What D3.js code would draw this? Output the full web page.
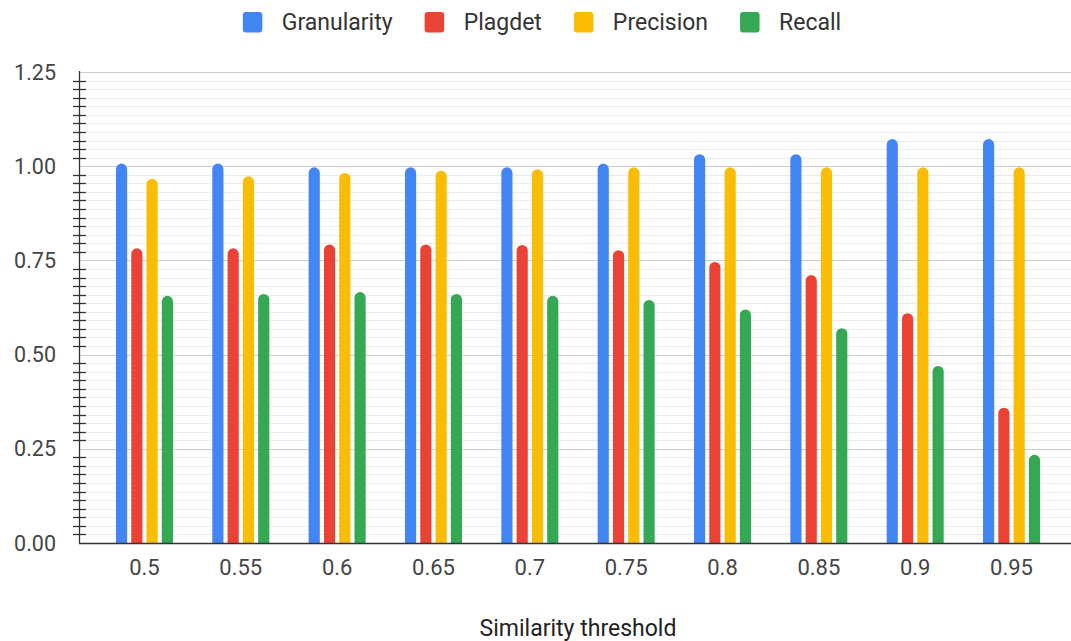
<!DOCTYPE html>
<html>
<head>
<meta charset="utf-8">
<script src="https://cdn.jsdelivr.net/npm/d3@7"></script>
<style>
  html, body { margin: 0; padding: 0; background: #fff; }
  svg { display: block; font-family: Roboto, "Liberation Sans", Arial, sans-serif; }
</style>
</head>
<body>
<svg id="chart" width="1071" height="641"></svg>
<script>
const categories = ["0.5", "0.55", "0.6", "0.65", "0.7", "0.75", "0.8", "0.85", "0.9", "0.95"];
const seriesNames = ["Granularity", "Plagdet", "Precision", "Recall"];
const granularity = [1.007, 1.007, 0.997, 0.997, 0.997, 1.007, 1.032, 1.032, 1.072, 1.072];
const plagdet     = [0.782, 0.782, 0.792, 0.792, 0.791, 0.777, 0.746, 0.711, 0.610, 0.359];
const precision   = [0.967, 0.973, 0.982, 0.988, 0.992, 0.997, 0.997, 0.997, 0.997, 0.997];
const recall      = [0.656, 0.661, 0.666, 0.661, 0.656, 0.645, 0.620, 0.570, 0.470, 0.234];
const yTickValues = [0, 0.25, 0.5, 0.75, 1.0, 1.25];
const yTickLabels = ["0.00", "0.25", "0.50", "0.75", "1.00", "1.25"];
const colors = ["#4285F4", "#EA4335", "#FBBC04", "#34A853"];
const xTitle = "Similarity threshold";

const seriesValues = [granularity, plagdet, precision, recall];

const svg = d3.select("#chart");
const axisX = 79, plotRight = 1071, plotTop = 72, plotBottom = 543;

const y = d3.scaleLinear().domain([0, 1.25]).range([plotBottom, plotTop]);
const x = d3.scaleBand().domain(categories).range([96.3, 1059.7]).paddingInner(0).paddingOuter(0);
const groupW = 57;
const x1 = d3.scaleBand().domain(seriesNames).range([0, groupW]).paddingInner(0.27).paddingOuter(0);

// minor gridlines (10 minor between each major)
const minor = [];
for (let i = 0; i < yTickValues.length - 1; i++) {
  const a = yTickValues[i], b = yTickValues[i + 1];
  for (let k = 1; k <= 10; k++) minor.push(a + (b - a) * k / 11);
}
const g = svg.append("g");
g.selectAll("line.minor").data(minor).join("line")
  .attr("x1", axisX).attr("x2", plotRight)
  .attr("y1", d => Math.round(y(d)) + 0.5).attr("y2", d => Math.round(y(d)) + 0.5)
  .attr("stroke", "#ebebeb").attr("stroke-width", 1);
g.selectAll("line.major").data(yTickValues.slice(1)).join("line")
  .attr("x1", axisX).attr("x2", plotRight)
  .attr("y1", d => Math.round(y(d)) + 0.5).attr("y2", d => Math.round(y(d)) + 0.5)
  .attr("stroke", "#cccccc").attr("stroke-width", 1);

// bars
function barPath(x0, w, top, bottom) {
  const r = Math.min(w / 2, bottom - top);
  return `M${x0},${bottom}V${top + r}A${r},${r} 0 0 1 ${x0 + r},${top}H${x0 + w - r}A${r},${r} 0 0 1 ${x0 + w},${top + r}V${bottom}Z`;
}
seriesNames.forEach((s, si) => {
  svg.append("g").selectAll("path").data(categories).join("path")
    .attr("fill", colors[si])
    .attr("d", (c, i) => {
      const cx = x(c) + x.bandwidth() / 2 - groupW / 2 + x1(s);
      return barPath(cx, x1.bandwidth(), y(seriesValues[si][i]), y(0));
    });
});

// y axis line and minor ticks
svg.append("line").attr("x1", axisX + 0.5).attr("x2", axisX + 0.5)
  .attr("y1", plotTop - 1).attr("y2", plotBottom).attr("stroke", "#333").attr("stroke-width", 1.3);
svg.append("g").selectAll("line").data(minor).join("line")
  .attr("x1", axisX - 6).attr("x2", axisX + 7)
  .attr("y1", d => Math.round(y(d)) + 0.5).attr("y2", d => Math.round(y(d)) + 0.5)
  .attr("stroke", "#333").attr("stroke-width", 1.3);
// x axis line
svg.append("line").attr("x1", axisX).attr("x2", plotRight)
  .attr("y1", plotBottom + 0.5).attr("y2", plotBottom + 0.5).attr("stroke", "#333").attr("stroke-width", 1.3);

// y tick labels
svg.append("g").selectAll("text").data(yTickValues).join("text")
  .attr("x", 56).attr("y", d => y(d)).attr("dy", "0.35em")
  .attr("text-anchor", "end").attr("font-size", 21.5).attr("fill", "#444")
  .text((d, i) => yTickLabels[i]);

// x tick labels
svg.append("g").selectAll("text").data(categories).join("text")
  .attr("x", c => x(c) + x.bandwidth() / 2).attr("y", 575)
  .attr("text-anchor", "middle").attr("font-size", 22).attr("fill", "#444")
  .text(c => c);

// x title
svg.append("text").attr("x", 578).attr("y", 636).attr("text-anchor", "middle")
  .attr("font-size", 23).attr("fill", "#222").text(xTitle);

// legend
const leg = svg.append("g");
const items = leg.selectAll("g").data(seriesNames).join("g");
items.append("rect").attr("width", 19.5).attr("height", 20.5).attr("rx", 3).attr("y", 12)
  .attr("fill", (d, i) => colors[i]);
items.append("text").attr("x", 39).attr("y", 30).attr("font-size", 23).attr("fill", "#333").text(d => d);
let widths = [];
items.each(function () { widths.push(this.querySelector("text").getComputedTextLength()); });
const gap = 32;
const total = widths.reduce((a, w) => a + 39 + w, 0) + gap * (widths.length - 1);
let cur = 542 - total / 2;
items.each(function (d, i) {
  d3.select(this).attr("transform", `translate(${cur},0)`);
  cur += 39 + widths[i] + gap;
});
</script>
</body>
</html>
